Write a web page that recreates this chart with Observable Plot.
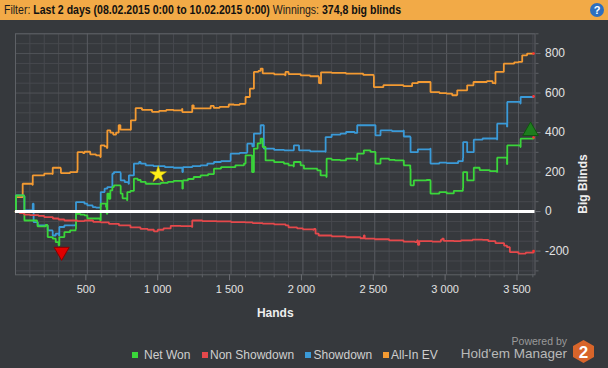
<!DOCTYPE html>
<html><head><meta charset="utf-8">
<script src="https://cdn.jsdelivr.net/npm/d3@7"></script>
<script src="https://cdn.jsdelivr.net/npm/@observablehq/plot@0.6"></script>
<style>
body{margin:0;background:#36393d;}
#wrap{position:relative;width:608px;height:368px;overflow:hidden;background:#36393d;font-family:"Segoe UI","Liberation Sans",sans-serif;}
#bar{position:absolute;left:0;top:0;width:608px;height:20px;background:#f2aa47;}
#bartext{position:absolute;left:4px;top:0;font-size:12px;line-height:20px;color:#1c1c1c;white-space:nowrap;transform-origin:0 50%;}
#bartext b{font-weight:bold;color:#111}
#help{position:absolute;left:590px;top:3px;width:14px;height:14px;border-radius:50%;background:#2d6fbf;color:#fff;font-size:11px;font-weight:bold;line-height:14px;text-align:center}
#chart{position:absolute;left:0;top:20px}
.lg{position:absolute;top:347px;font-size:12px;color:#cfcfcf;line-height:16px;white-space:nowrap}
.sq{position:absolute;top:352px;width:6px;height:6px}
#pw{position:absolute;right:41px;top:335px;font-size:10.5px;color:#9a9a9a}
#hm{position:absolute;right:41px;top:346px;font-size:13.5px;color:#b9b9b9}
#logo{position:absolute;left:572px;top:339px}
</style></head>
<body><div id="wrap">
<div id="bar"><div id="bartext">Filter: <b>Last 2 days (08.02.2015 0:00 to 10.02.2015 0:00)</b> Winnings: <b>374,8 big blinds</b></div><div id="help">?</div></div>
<div id="chart"></div>
<div id="legend"></div>
<div id="pw">Powered by</div>
<div id="hm">Hold'em Manager</div>
<svg id="logo" width="24" height="26"><polygon points="11.5,1 22,7 22,18 11.5,24 1,18 1,7" fill="#d8652a"/><text x="11.5" y="19" text-anchor="middle" font-family="Liberation Sans" font-weight="bold" font-size="17" fill="#fff">2</text></svg>
</div>
<script>
// ---- data ----
const xMajor=[500,1000,1500,2000,2500,3000,3500];
const xLabels=["500","1 000","1 500","2 000","2 500","3 000","3 500"];
const yMajor=[-200,0,200,400,600,800];
const yLabels=["-200","0","200","400","600","800"];
const seriesNames=["Net Won","Non Showdown","Showdown","All-In EV"];
const seriesColors=["#3ad63a","#e5484b","#3a9ad8","#f39a32"];

const allInEV=[[0,0],[3,73],[48,73],[50,141],[118,135],[120,183],[200,192],[257,190],[259,222],[314,218],[316,195],[380,200],[430,211],[432,301],[470,296],[480,303],[520,290],[560,285],[590,276],[593,335],[620,330],[636,322],[639,411],[660,400],[680,390],[700,400],[718,437],[730,415],[800,414],[803,462],[834,462],[836,524],[880,515],[950,505],[1000,510],[1050,515],[1100,512],[1159,520],[1161,504],[1228,504],[1230,538],[1240,522],[1300,522],[1358,535],[1380,525],[1420,530],[1484,542],[1520,540],[1560,545],[1599,548],[1601,580],[1629,580],[1631,622],[1657,622],[1659,707],[1690,712],[1706,724],[1720,700],[1800,695],[1875,690],[1879,707],[1900,696],[1984,690],[2050,685],[2110,681],[2112,650],[2124,648],[2126,705],[2200,702],[2300,698],[2420,692],[2492,685],[2494,630],[2560,640],[2620,640],[2700,635],[2760,650],[2800,656],[2886,656],[2888,605],[2950,600],[3000,597],[3039,589],[3072,590],[3074,614],[3140,614],[3143,639],[3185,639],[3187,656],[3280,660],[3320,650],[3338,648],[3340,707],[3395,707],[3398,749],[3470,755],[3500,758],[3524,758],[3526,791],[3560,800],[3605,800]];

const showdown=[[0,0],[3,82],[50,82],[60,78],[62,6],[118,0],[120,40],[124,40],[126,-53],[150,-53],[154,-70],[222,-70],[224,-95],[257,-100],[259,-121],[280,-112],[303,-121],[305,-78],[340,-70],[419,-61],[421,48],[480,40],[500,31],[537,23],[560,20],[590,25],[593,99],[620,116],[639,124],[672,124],[674,192],[685,200],[730,195],[732,158],[760,149],[787,140],[789,183],[822,183],[824,243],[860,251],[871,243],[906,234],[960,230],[1040,225],[1100,222],[1159,220],[1161,200],[1165,225],[1230,230],[1288,234],[1335,243],[1381,251],[1430,255],[1495,259],[1497,293],[1560,297],[1611,301],[1613,344],[1646,344],[1648,330],[1659,395],[1706,437],[1726,437],[1728,319],[1800,312],[1870,310],[1935,310],[1937,335],[1971,335],[1973,310],[2050,305],[2156,302],[2158,377],[2200,390],[2262,395],[2300,403],[2360,398],[2376,398],[2378,437],[2503,437],[2505,386],[2540,411],[2620,407],[2700,411],[2702,380],[2747,377],[2749,301],[2800,315],[2886,319],[2888,243],[2950,248],[3000,245],[3080,255],[3113,270],[3115,352],[3141,352],[3143,301],[3187,301],[3189,364],[3250,370],[3350,365],[3352,445],[3420,430],[3422,555],[3513,547],[3515,580],[3605,583]];

const netWon=[[0,0],[3,82],[50,82],[60,78],[62,-45],[150,-53],[154,-75],[210,-68],[222,-70],[224,-129],[259,-137],[280,-155],[300,-171],[305,-129],[340,-104],[380,-95],[419,-87],[421,-11],[450,-15],[480,-19],[500,-35],[590,-45],[593,40],[630,23],[635,-11],[639,91],[650,65],[660,107],[674,124],[685,133],[730,130],[732,91],[745,67],[776,57],[778,99],[800,105],[822,105],[824,167],[850,160],[871,150],[906,141],[960,140],[1010,145],[1060,150],[1100,155],[1159,150],[1161,116],[1165,158],[1200,165],[1240,175],[1288,183],[1340,190],[1379,190],[1381,217],[1430,225],[1480,225],[1530,234],[1590,243],[1601,285],[1640,285],[1646,200],[1650,200],[1659,319],[1685,345],[1706,369],[1720,327],[1738,327],[1740,259],[1800,250],[1868,243],[1900,234],[1935,228],[1937,251],[1973,251],[1984,234],[2007,217],[2100,209],[2123,183],[2163,175],[2165,268],[2200,262],[2260,259],[2300,268],[2376,259],[2378,293],[2424,310],[2470,302],[2503,302],[2505,243],[2540,268],[2600,262],[2640,259],[2702,234],[2747,217],[2749,133],[2772,158],[2860,160],[2886,158],[2888,91],[2950,99],[3000,92],[3050,105],[3113,120],[3115,200],[3141,200],[3143,158],[3187,158],[3189,222],[3230,210],[3300,205],[3350,200],[3352,273],[3420,240],[3422,335],[3513,327],[3515,369],[3605,375]];

const nonShowdown=[[0,0],[30,-8],[60,-15],[100,-18],[160,-22],[200,-28],[260,-35],[300,-40],[340,-45],[430,-48],[480,-45],[540,-52],[593,-55],[650,-62],[720,-70],[800,-80],[870,-88],[920,-92],[963,-100],[990,-92],[1030,-85],[1080,-72],[1150,-74],[1228,-78],[1230,-45],[1300,-48],[1400,-50],[1500,-53],[1600,-55],[1650,-58],[1720,-61],[1800,-65],[1880,-70],[1900,-80],[1960,-85],[2000,-90],[2070,-92],[2076,-88],[2088,-112],[2110,-121],[2200,-125],[2300,-130],[2400,-135],[2424,-121],[2430,-137],[2500,-140],[2600,-146],[2700,-152],[2780,-155],[2795,-146],[2800,-168],[2810,-150],[2900,-152],[2960,-143],[2969,-137],[2980,-148],[3050,-150],[3100,-146],[3180,-142],[3250,-143],[3290,-150],[3340,-160],[3400,-172],[3420,-180],[3440,-205],[3500,-213],[3550,-208],[3605,-200]];

const bestPoint=[[3584,408]];   // green up-triangle
const worstPoint=[[321,-203]];  // red down-triangle
const starPoint=[[993,188]];    // yellow star

// ---- header text fit ----
const bt=document.getElementById("bartext");
const w0=bt.getBoundingClientRect().width;
bt.style.transform=`scaleX(${397/w0})`;

// ---- chart ----
const xMinor=d3.range(100,3601,100).filter(d=>!xMajor.includes(d));
const yMinor=d3.range(-300,901,50).filter(d=>!yMajor.includes(d));
const X=d=>d[0], Y=d=>d[1];
const ends=[allInEV,showdown,netWon,nonShowdown].map(s=>s[s.length-1]);
const lineOpts=(c)=>({x:X,y:Y,stroke:c,strokeWidth:1.8,curve:"step-after",strokeLinejoin:"miter"});

const chart=Plot.plot({
  width:608,height:310,
  marginLeft:15,marginRight:73.5,marginTop:13.3,marginBottom:55.7,
  style:{background:"transparent",color:"#e2e2e2",fontFamily:"'Segoe UI','Liberation Sans',sans-serif",fontSize:"11px"},
  x:{domain:[0,3615],axis:null},
  y:{domain:[-320,900],axis:null},
  marks:[
    Plot.ruleX(xMinor,{stroke:"#47494e",strokeWidth:1}),
    Plot.ruleY(yMinor,{stroke:"#47494e",strokeWidth:1}),
    Plot.ruleX(xMajor,{stroke:"#595c61",strokeWidth:1}),
    Plot.ruleY(yMajor,{stroke:"#505358",strokeWidth:1}),
    Plot.frame({stroke:"#5e6166"}),
    Plot.axisX({ticks:xMinor,tickSize:3,tickFormat:()=>"",stroke:"#5e6166"}),
    Plot.axisX({ticks:xMajor,tickSize:6,tickPadding:4,tickFormat:d=>xLabels[xMajor.indexOf(d)],stroke:"#6a6d72",fill:"#e2e2e2",dx:-1.5}),
    Plot.axisY({ticks:yMinor,anchor:"right",tickSize:3,tickFormat:()=>"",stroke:"#5e6166"}),
    Plot.axisY({ticks:yMajor,anchor:"right",tickSize:5,tickPadding:5,tickFormat:d=>yLabels[yMajor.indexOf(d)],stroke:"#6a6d72",fill:"#e2e2e2",fontSize:12}),
    Plot.text(["Hands"],{frameAnchor:"bottom",dy:42,fontWeight:"bold",fontSize:12,fill:"#eeeeee"}),
    Plot.text(["Big Blinds"],{frameAnchor:"right",dx:48.5,rotate:-90,fontWeight:"bold",fontSize:12,fill:"#eeeeee"}),
    Plot.line(allInEV,lineOpts(seriesColors[3])),
    Plot.line(showdown,lineOpts(seriesColors[2])),
    Plot.line(netWon,lineOpts(seriesColors[0])),
    Plot.line(nonShowdown,lineOpts(seriesColors[1])),
    Plot.ruleY([0],{stroke:"#ffffff",strokeWidth:3}),
    Plot.dot(ends,{x:X,y:Y,r:1.3,fill:"#ff3030"}),
    Plot.dot(worstPoint,{x:X,y:Y,symbol:"triangle",rotate:180,r:5.6,fill:"#e00000",stroke:"#8a0000",strokeWidth:1}),
    Plot.dot(bestPoint,{x:X,y:Y,symbol:"triangle",r:5.8,fill:"#1e7d1e",stroke:"#0f560f",strokeWidth:1}),
    Plot.dot(starPoint,{x:X,y:Y,symbol:"star",r:5.2,fill:"#ffee1a",stroke:"#d8c400",strokeWidth:0.5})
  ]
});
document.getElementById("chart").appendChild(chart);

// ---- legend ----
const lgSq=[132,202,305,382.5], lgTx=[144,210,313.5,391];
const wrap=document.getElementById("wrap");
seriesNames.forEach((n,i)=>{
  const s=document.createElement("div");s.className="sq";s.style.left=lgSq[i]+"px";s.style.background=seriesColors[i];wrap.appendChild(s);
  const t=document.createElement("div");t.className="lg";t.style.left=lgTx[i]+"px";t.textContent=n;wrap.appendChild(t);
});
</script>
</body></html>
